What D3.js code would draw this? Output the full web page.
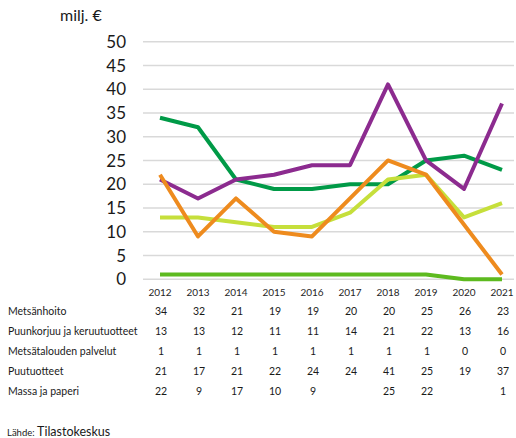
<!DOCTYPE html>
<html>
<head>
<meta charset="utf-8">
<script src="https://cdn.jsdelivr.net/npm/d3@7"></script>
<style>
  html, body { margin: 0; padding: 0; background: #fff; }
  svg { display: block; font-family: Lato, "Open Sans", sans-serif; }
</style>
</head>
<body>
<svg id="chart" width="516" height="438"></svg>
<script>
// Vuodet ja sarjat (milj. €)
const years = [2012, 2013, 2014, 2015, 2016, 2017, 2018, 2019, 2020, 2021];
const seriesNames = ["Metsänhoito", "Puunkorjuu ja keruutuotteet", "Metsätalouden palvelut", "Puutuotteet", "Massa ja paperi"];
const metsanhoito = [34, 32, 21, 19, 19, 20, 20, 25, 26, 23];
const puunkorjuu = [13, 13, 12, 11, 11, 14, 21, 22, 13, 16];
const palvelut = [1, 1, 1, 1, 1, 1, 1, 1, 0, 0];
const puutuotteet = [21, 17, 21, 22, 24, 24, 41, 25, 19, 37];
const massaPaperi = [22, 9, 17, 10, 9, null, 25, 22, null, 1];
const yTicks = [0, 5, 10, 15, 20, 25, 30, 35, 40, 45, 50];
const colors = ["#009A47", "#C6DF3B", "#5DBA1F", "#8C2B8F", "#EE8B1E"];

const series = [metsanhoito, puunkorjuu, palvelut, puutuotteet, massaPaperi];

const svg = d3.select("#chart");

const x = d3.scalePoint().domain(years).range([160, 502]);
const y = d3.scaleLinear().domain([0, 50]).range([279.2, 41.7]);
const gridLeft = 143, gridRight = 514;

// Vaakaviivat
svg.append("g").selectAll("line").data(yTicks).join("line")
  .attr("x1", gridLeft).attr("x2", gridRight)
  .attr("y1", d => y(d)).attr("y2", d => y(d))
  .attr("stroke", "#D9D9D9").attr("stroke-width", 1.5);

// Y-akselin arvot
svg.append("g").selectAll("text").data(yTicks).join("text")
  .attr("x", 126).attr("y", d => y(d))
  .attr("dy", "0.36em")
  .attr("text-anchor", "end")
  .attr("font-size", 17).attr("fill", "#1a1a1a")
  .text(d => d);

svg.append("text").attr("x", 60).attr("y", 21)
  .attr("font-size", 16).attr("fill", "#1a1a1a").text("milj. €");

// X-akselin vuodet
svg.append("g").selectAll("text").data(years).join("text")
  .attr("x", d => x(d)).attr("y", 296)
  .attr("text-anchor", "middle")
  .attr("font-size", 10).attr("fill", "#262626")
  .text(d => d);

// Viivat; puuttuvien vuosien yli piirretään suora yhteys
const line = d3.line().x(d => x(d.year)).y(d => y(d.value));
series.forEach((vals, i) => {
  const pts = years.map((yr, j) => ({ year: yr, value: vals[j] })).filter(d => d.value != null);
  svg.append("path").datum(pts)
    .attr("d", line)
    .attr("fill", "none")
    .attr("stroke", colors[i])
    .attr("stroke-width", 4)
    .attr("stroke-linejoin", "round");
});

// Arvotaulukko
const rowY = [315, 335, 355, 375, 395];
seriesNames.forEach((name, i) => {
  svg.append("text").attr("x", 8).attr("y", rowY[i])
    .attr("font-size", 10.5).attr("fill", "#1a1a1a").text(name);
  svg.append("g").selectAll("text").data(years.map((yr, j) => ({ yr, v: series[i][j] })).filter(d => d.v != null))
    .join("text")
    .attr("x", d => x(d.yr) + 1).attr("y", rowY[i])
    .attr("text-anchor", "middle")
    .attr("font-size", 10.5).attr("fill", "#1a1a1a")
    .text(d => d.v);
});

// Lähde
const src = svg.append("text").attr("x", 7).attr("y", 436).attr("fill", "#1a1a1a");
src.append("tspan").attr("font-size", 9.5).text("Lähde: ");
src.append("tspan").attr("font-size", 12.5).text("Tilastokeskus");
</script>
</body>
</html>
